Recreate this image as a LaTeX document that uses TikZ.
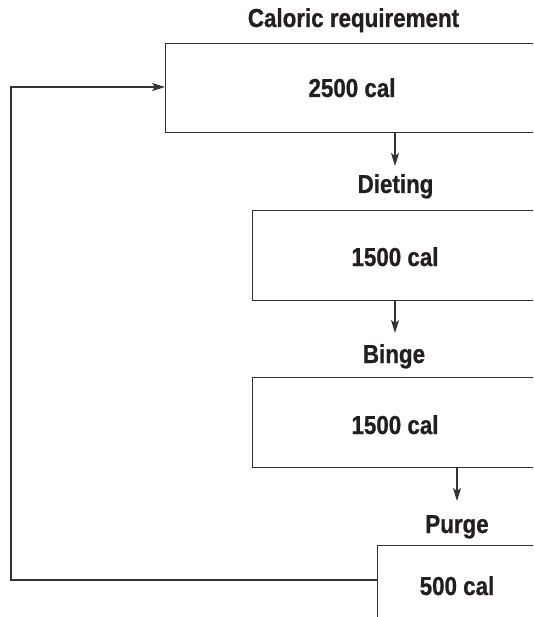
\documentclass[tikz,border=0pt]{standalone}
\usepackage{fontspec}
\setmainfont{Liberation Sans}[FakeStretch=0.86,BoldFeatures={FakeBold=0.8}]
\usetikzlibrary{arrows.meta}
\definecolor{ink}{HTML}{231F20}
\definecolor{edge}{HTML}{333333}
\begin{document}
\begin{tikzpicture}[x=1pt,y=-1pt,
  box/.style={draw=edge,line width=1.3pt,anchor=north west,minimum width=400pt,inner sep=0pt},
  lab/.style={anchor=base,inner sep=0pt,text height=17.5pt,text depth=0pt,font=\bfseries\fontsize{26}{28}\selectfont,text=ink},
  arr/.style={draw=edge,line width=1.1pt,-{Stealth[length=13pt,width=8pt,inset=3pt]}}]
\useasboundingbox (0,0) rectangle (533,617);
\clip (0,0) rectangle (533,617);
% boxes
\node[box,minimum height=89pt] (b1) at (165,43) {};
\node[box,minimum height=90pt] (b2) at (252,210) {};
\node[box,minimum height=90pt] (b3) at (252,377) {};
\node[box,minimum height=90pt] (b4) at (377,545) {};
% labels
\node[lab] (l1) at (353.5,27) {Caloric requirement};
\node[lab] (t1) at (352,97) {2500 cal};
\node[lab] (l2) at (395.5,193) {Dieting};
\node[lab] (t2) at (395,266) {1500 cal};
\node[lab] (l3) at (394,363) {Binge};
\node[lab] (t3) at (395,434) {1500 cal};
\node[lab] (l4) at (457,533) {Purge};
\node[lab] (t4) at (457,595) {500 cal};
% connectors
\coordinate (fbtop) at (11,87);
\coordinate (fbbot) at (11,580);
\coordinate (a1) at (395,166);
\coordinate (a2) at (395,333);
\coordinate (a3) at (457,501);
\draw[arr] (a1 |- b1.south) -- (a1);
\draw[arr] (a2 |- b2.south) -- (a2);
\draw[arr] (a3 |- b3.south) -- (a3);
\draw[arr] (b4.west |- fbbot) -- (fbbot) -- (fbtop) -- (b1.west |- fbtop);
\end{tikzpicture}
\end{document}
